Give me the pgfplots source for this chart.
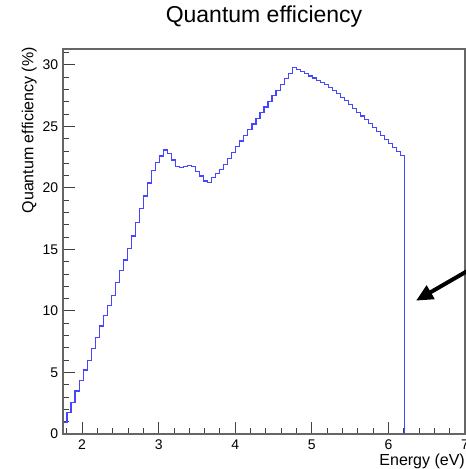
\documentclass[border=0pt]{standalone}
\usepackage{fontspec}
\setmainfont{Liberation Sans}
\usepackage{pgfplots}
\pgfplotsset{compat=1.18}
\usetikzlibrary{arrows.meta}
\pgfplotstableread{
x y
1.75 0.95
1.8025 1.73
1.855 2.57
1.9075 3.5
1.96 4.37
2.0125 5.2
2.065 6.0
2.1175 6.93
2.17 7.83
2.2225 8.78
2.275 9.65
2.3275 10.45
2.38 11.28
2.4325 12.3
2.485 13.3
2.5375 14.15
2.59 15.1
2.6425 16.1
2.695 17.2
2.7475 18.3
2.8 19.35
2.8525 20.4
2.905 21.4
2.9575 22.1
3.01 22.6
3.0625 23.09
3.115 22.82
3.1675 22.28
3.22 21.73
3.2725 21.65
3.325 21.73
3.3775 21.8
3.43 21.73
3.4825 21.35
3.535 20.97
3.5875 20.57
3.64 20.43
3.6925 20.84
3.745 21.2
3.7975 21.5
3.85 21.92
3.9025 22.38
3.955 22.87
4.0075 23.36
4.06 23.82
4.1125 24.28
4.165 24.74
4.2175 25.2
4.27 25.66
4.3225 26.12
4.375 26.58
4.4275 27.04
4.48 27.5
4.5325 27.96
4.585 28.42
4.6375 28.88
4.69 29.34
4.7425 29.8
4.795 29.62
4.8475 29.45
4.9 29.28
4.9525 29.11
5.005 28.94
5.0575 28.77
5.11 28.59
5.1625 28.42
5.215 28.2
5.2675 27.95
5.32 27.68
5.3725 27.38
5.425 27.08
5.4775 26.78
5.53 26.47
5.5825 26.16
5.635 25.85
5.6875 25.54
5.74 25.23
5.7925 24.92
5.845 24.6
5.8975 24.28
5.95 23.96
6.0025 23.63
6.055 23.3
6.1075 22.97
6.16 22.62
6.2125 0
}\qedata
\begin{document}
\begin{tikzpicture}[x=1pt,y=1pt]
\path[use as bounding box] (0,0) rectangle (466,469);
\begin{axis}[
  at={(63pt,35pt)}, anchor=south west,
  scale only axis, width=402pt, height=385pt,
  xmin=1.75, xmax=7, ymin=0, ymax=31.3,
  clip=false,
  axis line style={black!60, line width=1.2pt},
  tick align=inside, tick pos=left,
  xtick={2,3,4,5,6,7}, ytick={0,5,10,15,20,25,30},
  minor xtick={1.8,2.2,2.4,2.6,2.8,3.2,3.4,3.6,3.8,4.2,4.4,4.6,4.8,5.2,5.4,5.6,5.8,6.2,6.4,6.6,6.8},
  minor ytick={1,2,3,4,6,7,8,9,11,12,13,14,16,17,18,19,21,22,23,24,26,27,28,29,31},
  major tick length=12pt, minor tick length=6pt,
  tick style={black!75, line width=1pt},
  /pgf/number format/assume math mode=true,
  ticklabel style={font=\fontsize{14}{14}\selectfont, inner sep=0pt},
  xticklabel style={anchor=north},
  yticklabel style={anchor=east},
  xticklabel shift=6pt, yticklabel shift=4.7pt,
  title={Quantum efficiency},
  title style={at={(axis description cs:0.5,1)}, anchor=base, yshift=20pt, font=\fontsize{23}{23}\selectfont, inner sep=0pt},
  xlabel={Energy (eV)},
  xlabel style={at={(axis description cs:1,0)}, anchor=base east, yshift=-31pt, font=\fontsize{16}{16}\selectfont, inner sep=0pt},
  ylabel={Quantum efficiency (\%)},
  ylabel style={at={(axis description cs:-0.0739,1.005)}, anchor=base east, font=\fontsize{16}{16}\selectfont, inner sep=0pt},
]
\addplot[const plot, color={rgb,255:red,70;green,70;blue,255}, line width=1.15pt] table[x=x, y=y] {\qedata};
\draw[line width=4pt, -{Triangle[length=17pt,width=15pt]}] (axis cs:7.1,13.5) -- (axis cs:6.36,10.84);
\end{axis}
\end{tikzpicture}
\end{document}
